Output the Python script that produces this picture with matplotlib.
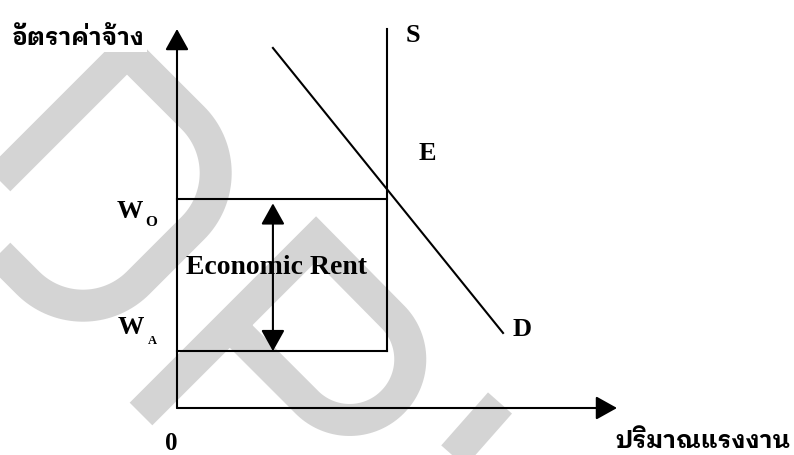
import numpy as np
import matplotlib
matplotlib.use('Agg')
import matplotlib.pyplot as plt
from matplotlib import font_manager as fm
from matplotlib.ft2font import FT2Font
from matplotlib.patches import FancyArrowPatch

# ---------------- data (diagram values in axis units) ----------------
x_max = 10.0                      # length of the quantity axis
y_max = 10.0                      # length of the wage axis
wage_levels = [5.51, 1.50]        # W_O, W_A
wage_subs = ['O', 'A']
supply_q = 4.77                   # vertical supply curve S
supply_top = 10.0
demand_q = [2.18, 7.41]           # demand line D end points
demand_w = [9.50, 1.98]
rent_arrow_q = 2.18
curve_labels = ['S', 'E', 'D']
axis_labels = ['อัตราค่าจ้าง', 'ปริมาณแรงงาน']
origin_label = '0'
rent_label = 'Economic Rent'

# watermark outline (decoration, figure pixel coordinates)
wm1_pts = [(-38, 217), (127, 52), (248, 173), (83, 338)]
wm1_rad = [30, 0, 78, 78]
wm2_pts = [(141, 414), (316, 239), (435, 359.6), (349.6, 445), (229.8, 325.2)]
wm2_rad = [0, 0, 60.4, 60.4, 0]
wm3_pts = [(500, 403), (440, 471)]
wm3_rad = [0, 0]

W, H, DPI = 794, 455, 100


def find_thai_font():
    best = None
    looped = ('Looped', 'Serif Thai', 'Norasi', 'Garuda', 'Loma', 'Kinnari', 'Sarabun',
              'Laksaman', 'Purisa', 'Umpush', 'Sawasdee', 'Waree', 'TlwgTypo')
    for f in fm.fontManager.ttflist:
        try:
            ft = FT2Font(f.fname)
            if ft.get_char_index(ord('ก')) and ft.get_char_index(ord('ั')):
                wt = f.weight
                if not isinstance(wt, int):
                    wt = 700 if 'bold' in str(wt).lower() else 400
                score = (1 if wt >= 600 else 0,
                         1 if any(k in f.name for k in looped) else 0,
                         1 if 'Thai' in f.name else 0)
                if best is None or score > best[0]:
                    best = (score, f)
        except Exception:
            pass
    if best is None:
        return fm.FontProperties(family='DejaVu Sans', weight='bold')
    return fm.FontProperties(fname=best[1].fname)


def rounded(points, radii, closed=False, n=40):
    P = np.asarray(points, float)
    m = len(P)
    out = []
    for i in range(m):
        r = radii[i]
        if ((not closed) and (i == 0 or i == m - 1)) or r <= 0:
            out.append(P[i])
            continue
        p0, p1, p2 = P[i - 1], P[i], P[(i + 1) % m]
        u1 = (p1 - p0) / np.linalg.norm(p1 - p0)
        u2 = (p2 - p1) / np.linalg.norm(p2 - p1)
        theta = np.arccos(np.clip(np.dot(u1, u2), -1, 1))
        d = r * np.tan(theta / 2)
        A = p1 - u1 * d
        B = p1 + u2 * d
        cross = u1[0] * u2[1] - u1[1] * u2[0]
        nrm = np.array([-u1[1], u1[0]]) * np.sign(cross)
        C = A + nrm * r
        a0 = np.arctan2(A[1] - C[1], A[0] - C[0])
        a1 = np.arctan2(B[1] - C[1], B[0] - C[0])
        da = (a1 - a0 + np.pi) % (2 * np.pi) - np.pi
        ang = a0 + da * np.linspace(0, 1, n)
        out.extend(np.c_[C[0] + r * np.cos(ang), C[1] + r * np.sin(ang)])
    if closed:
        out.append(out[0])
    return np.array(out)


thai_fp = find_thai_font()
serif = dict(family='Liberation Serif', weight='bold', color='black')

fig = plt.figure(figsize=(W / DPI, H / DPI), dpi=DPI)
fig.patch.set_facecolor('white')

# background overlay in pixel coordinates (watermark + labels)
bg = fig.add_axes([0, 0, 1, 1])
bg.set_xlim(0, W)
bg.set_ylim(H, 0)
bg.axis('off')

wm_color = '#d4d4d4'
wm_lw = 32 * 72 / DPI
for pts, rad, closed in [(wm1_pts, wm1_rad, True), (wm2_pts, wm2_rad, False), (wm3_pts, wm3_rad, False)]:
    path = rounded(pts, rad, closed)
    bg.plot(path[:, 0], path[:, 1], color=wm_color, lw=wm_lw,
            solid_joinstyle='miter', solid_capstyle='butt', zorder=1)

# main diagram axes
x0, x1, ytop, ybot = 177, 617, 29, 408
ax = fig.add_axes([x0 / W, (H - ybot) / H, (x1 - x0) / W, (ybot - ytop) / H])
ax.set_xlim(0, x_max)
ax.set_ylim(0, y_max)
ax.axis('off')
ax.patch.set_alpha(0)

lw = 1.5
head = '-|>,head_length=0.52,head_width=0.29'
ax.add_patch(FancyArrowPatch((0, 0), (0, y_max), arrowstyle=head, mutation_scale=25,
                             color='black', lw=lw, shrinkA=0, shrinkB=0, clip_on=False))
ax.add_patch(FancyArrowPatch((0, 0), (x_max, 0), arrowstyle=head, mutation_scale=25,
                             color='black', lw=lw, shrinkA=0, shrinkB=0, clip_on=False))

ax.plot([supply_q, supply_q], [wage_levels[1], supply_top], color='black', lw=lw, clip_on=False)
ax.plot(demand_q, demand_w, color='black', lw=lw, clip_on=False)
for w in wage_levels:
    ax.plot([0, supply_q], [w, w], color='black', lw=lw, clip_on=False)

ax.add_patch(FancyArrowPatch((rent_arrow_q, wage_levels[1]), (rent_arrow_q, wage_levels[0]),
                             arrowstyle='<|-|>,head_length=0.52,head_width=0.29', mutation_scale=25,
                             color='black', lw=lw, shrinkA=0, shrinkB=3, clip_on=False))

# labels (pixel coordinates on the overlay)
fs = 19
bg.text(413, 36, curve_labels[0], ha='center', va='center', fontsize=fs, zorder=5, **serif)
bg.text(427, 153, curve_labels[1], ha='center', va='center', fontsize=fs, zorder=5, **serif)
bg.text(522, 329, curve_labels[2], ha='center', va='center', fontsize=fs, zorder=5, **serif)
bg.text(171, 444, origin_label, ha='center', va='center', fontsize=18, zorder=5, **serif)
bg.text(130, 212, 'W', ha='center', va='center', fontsize=fs, zorder=5, **serif)
bg.text(151, 222, wage_subs[0], ha='center', va='center', fontsize=11, zorder=5, **serif)
bg.text(131, 328, 'W', ha='center', va='center', fontsize=fs, zorder=5, **serif)
bg.text(152, 341, wage_subs[1], ha='center', va='center', fontsize=9, zorder=5, **serif)
bg.text(276, 268, rent_label, ha='center', va='center', fontsize=20, zorder=5, **serif)

ty = bg.text(12, 45, axis_labels[0], ha='left', va='baseline', fontproperties=thai_fp,
             fontsize=20, fontweight='bold', color='black', zorder=5,
             bbox=dict(facecolor='white', edgecolor='none', pad=1.5))
tx = bg.text(790, 448, axis_labels[1], ha='right', va='baseline', fontproperties=thai_fp,
             fontsize=20, fontweight='bold', color='black', zorder=5)

# fit the Thai labels to the widths seen in the reference
fig.canvas.draw()
r = fig.canvas.get_renderer()
for t, target in [(ty, 133.0), (tx, 175.0)]:
    wpx = t.get_window_extent(r).width
    if wpx > 0:
        t.set_fontsize(20 * target / wpx)

fig.savefig('out.png', dpi=DPI, facecolor='white')
